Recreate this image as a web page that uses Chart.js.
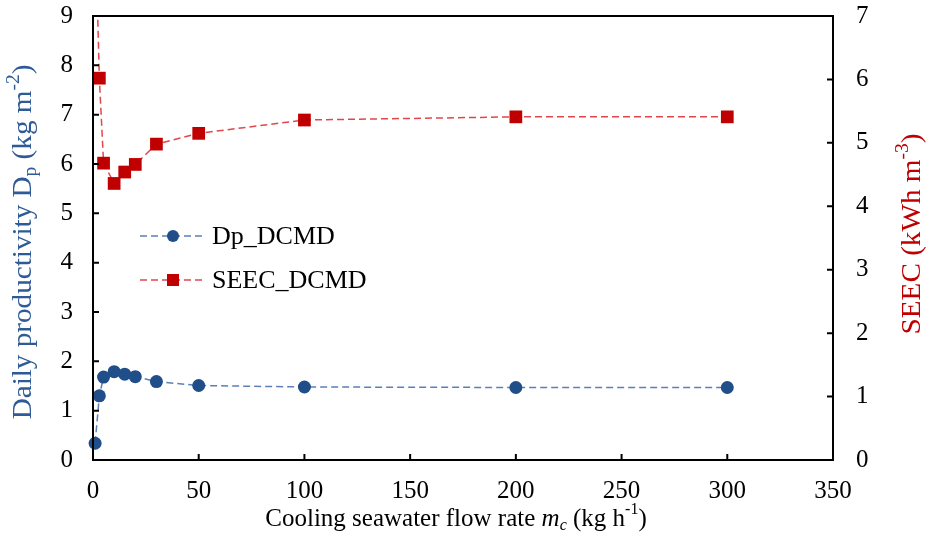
<!DOCTYPE html>
<html>
<head>
<meta charset="utf-8">
<script src="https://cdn.jsdelivr.net/npm/chart.js@4/dist/chart.umd.min.js"></script>
<style>
html,body{margin:0;padding:0;background:#fff;}
#wrap{width:931px;height:537px;}
</style>
</head>
<body>
<div id="wrap"><canvas id="c" width="931" height="537"></canvas></div>
<script>
// ---- data ----
const flowRates  = [1, 3, 5, 10, 15, 20, 30, 50, 100, 200, 300];
const dpDCMD     = [0.34, 1.30, 1.68, 1.79, 1.74, 1.69, 1.59, 1.51, 1.48, 1.47, 1.47];
const seecDCMD   = [8.5, 6.02, 4.68, 4.36, 4.54, 4.66, 4.98, 5.15, 5.36, 5.41, 5.41];
const xTickVals  = [0, 50, 100, 150, 200, 250, 300, 350];
const yLeftTicks = [0, 1, 2, 3, 4, 5, 6, 7, 8, 9];
const yRightTicks= [0, 1, 2, 3, 4, 5, 6, 7];
const seriesNames = ['Dp_DCMD', 'SEEC_DCMD'];

const SERIF = '"Liberation Serif", "DejaVu Serif", serif';
const BLUE_M = '#1F4E89', BLUE_L = '#5B80B8';
const RED_M = '#C00000', RED_L = '#E0474C';
const BLUE_T = '#2E5B97', RED_T = '#C00000';

const toXY = (xs, ys) => xs.map((x, i) => ({x: x, y: ys[i]}));

function drawRich(ctx, segs, cx, cy, rot, size, color, stretch) {
  ctx.save();
  ctx.translate(cx, cy);
  ctx.rotate(rot);
  ctx.scale(stretch || 1, 1);
  ctx.fillStyle = color;
  ctx.textBaseline = 'middle';
  ctx.textAlign = 'left';
  const fontOf = s => (s.it ? 'italic ' : '') + ((s.sub || s.sup) ? Math.round(size * 0.65) : size) + 'px ' + SERIF;
  let total = 0;
  segs.forEach(s => { ctx.font = fontOf(s); total += ctx.measureText(s.t).width; });
  let x = -total / 2;
  segs.forEach(s => {
    ctx.font = fontOf(s);
    let dy = 0;
    if (s.sub) dy = size * 0.28;
    if (s.sup) dy = -size * 0.35;
    ctx.fillText(s.t, x, dy);
    x += ctx.measureText(s.t).width;
  });
  ctx.restore();
}

function zeroPad(s) { s.paddingTop = 0; s.paddingBottom = 0; s.paddingLeft = 0; s.paddingRight = 0; }

const decor = {
  id: 'decor',
  afterDraw(chart) {
    const ctx = chart.ctx, a = chart.chartArea;
    const sx = chart.scales.x, sy = chart.scales.y, sy2 = chart.scales.y2;
    ctx.save();
    ctx.strokeStyle = '#000';
    ctx.lineWidth = 2;
    ctx.strokeRect(a.left, a.top, a.right - a.left, a.bottom - a.top);
    const tl = 6;
    ctx.beginPath();
    xTickVals.forEach(v => {
      const p = sx.getPixelForValue(v);
      if (p > a.left + 1 && p < a.right - 1) { ctx.moveTo(p, a.bottom); ctx.lineTo(p, a.bottom - tl); }
    });
    yLeftTicks.forEach(v => {
      const p = sy.getPixelForValue(v);
      if (p > a.top + 1 && p < a.bottom - 1) { ctx.moveTo(a.left, p); ctx.lineTo(a.left + tl, p); }
    });
    yRightTicks.forEach(v => {
      const p = sy2.getPixelForValue(v);
      if (p > a.top + 1 && p < a.bottom - 1) { ctx.moveTo(a.right, p); ctx.lineTo(a.right - tl, p); }
    });
    ctx.stroke();

    // legend
    const items = [
      {name: seriesNames[0], line: BLUE_L, mark: BLUE_M, shape: 'circle', y: 236},
      {name: seriesNames[1], line: RED_L, mark: RED_M, shape: 'rect', y: 280}
    ];
    items.forEach(it => {
      ctx.save();
      ctx.strokeStyle = it.line;
      ctx.lineWidth = 1.5;
      ctx.setLineDash([7, 4]);
      ctx.beginPath(); ctx.moveTo(140, it.y); ctx.lineTo(203, it.y); ctx.stroke();
      ctx.setLineDash([]);
      ctx.fillStyle = it.mark;
      if (it.shape === 'circle') { ctx.beginPath(); ctx.arc(173, it.y, 6, 0, Math.PI * 2); ctx.fill(); }
      else { ctx.fillRect(167, it.y - 6, 12, 12); }
      ctx.fillStyle = '#000';
      ctx.font = '26px ' + SERIF;
      ctx.textBaseline = 'middle';
      ctx.fillText(it.name, 212, it.y + 1);
      ctx.restore();
    });

    // axis titles
    drawRich(ctx, [{t: 'Daily productivity D'}, {t: 'p', sub: true}, {t: ' (kg m'}, {t: '-2', sup: true}, {t: ')'}],
      24, 242, -Math.PI / 2, 27, BLUE_T, 1.08);
    drawRich(ctx, [{t: 'SEEC (kWh m'}, {t: '-3', sup: true}, {t: ')'}],
      913, 234, -Math.PI / 2, 27, RED_T, 1.08);
    drawRich(ctx, [{t: 'Cooling seawater flow rate '}, {t: 'm', it: true}, {t: 'c', it: true, sub: true}, {t: ' (kg h'}, {t: '-1', sup: true}, {t: ')'}],
      456, 519, 0, 25, '#000', 1);
    ctx.restore();
  }
};

new Chart(document.getElementById('c'), {
  type: 'scatter',
  data: {
    datasets: [
      {
        label: seriesNames[0], data: toXY(flowRates, dpDCMD), yAxisID: 'y', showLine: true,
        borderColor: BLUE_L, borderWidth: 1.5, borderDash: [7, 4],
        pointStyle: 'circle', pointRadius: 6.5, pointBackgroundColor: BLUE_M, pointBorderColor: BLUE_M, pointBorderWidth: 0,
        clip: {left: 10, right: 10, top: 0, bottom: 10}
      },
      {
        label: seriesNames[1], data: toXY(flowRates, seecDCMD), yAxisID: 'y2', showLine: true,
        borderColor: RED_L, borderWidth: 1.5, borderDash: [7, 4],
        pointStyle: 'rect', pointRadius: 9, pointBackgroundColor: RED_M, pointBorderColor: RED_M, pointBorderWidth: 0,
        clip: {left: 10, right: 10, top: 0, bottom: 10}
      }
    ]
  },
  options: {
    responsive: false,
    animation: false,
    devicePixelRatio: 1,
    layout: {padding: {top: 16, left: 0, right: 0, bottom: 0}},
    plugins: {legend: {display: false}, tooltip: {enabled: false}},
    scales: {
      x: {
        type: 'linear', min: 0, max: 350,
        afterBuildTicks: s => { s.ticks = xTickVals.map(v => ({value: v})); },
        afterFit: s => { s.height = 77; zeroPad(s); },
        grid: {display: false, drawTicks: false},
        border: {display: false},
        ticks: {color: '#000', font: {family: SERIF, size: 25}, padding: 16, maxRotation: 0}
      },
      y: {
        position: 'left', min: 0, max: 9,
        afterBuildTicks: s => { s.ticks = yLeftTicks.map(v => ({value: v})); },
        afterFit: s => { s.width = 93; zeroPad(s); },
        grid: {display: false, drawTicks: false},
        border: {display: false},
        ticks: {color: '#000', font: {family: SERIF, size: 25}, padding: 20}
      },
      y2: {
        position: 'right', min: 0, max: 7,
        afterBuildTicks: s => { s.ticks = yRightTicks.map(v => ({value: v})); },
        afterFit: s => { s.width = 98; zeroPad(s); },
        grid: {display: false, drawTicks: false},
        border: {display: false},
        ticks: {color: '#000', font: {family: SERIF, size: 25}, padding: 23}
      }
    }
  },
  plugins: [decor]
});
</script>
</body>
</html>
